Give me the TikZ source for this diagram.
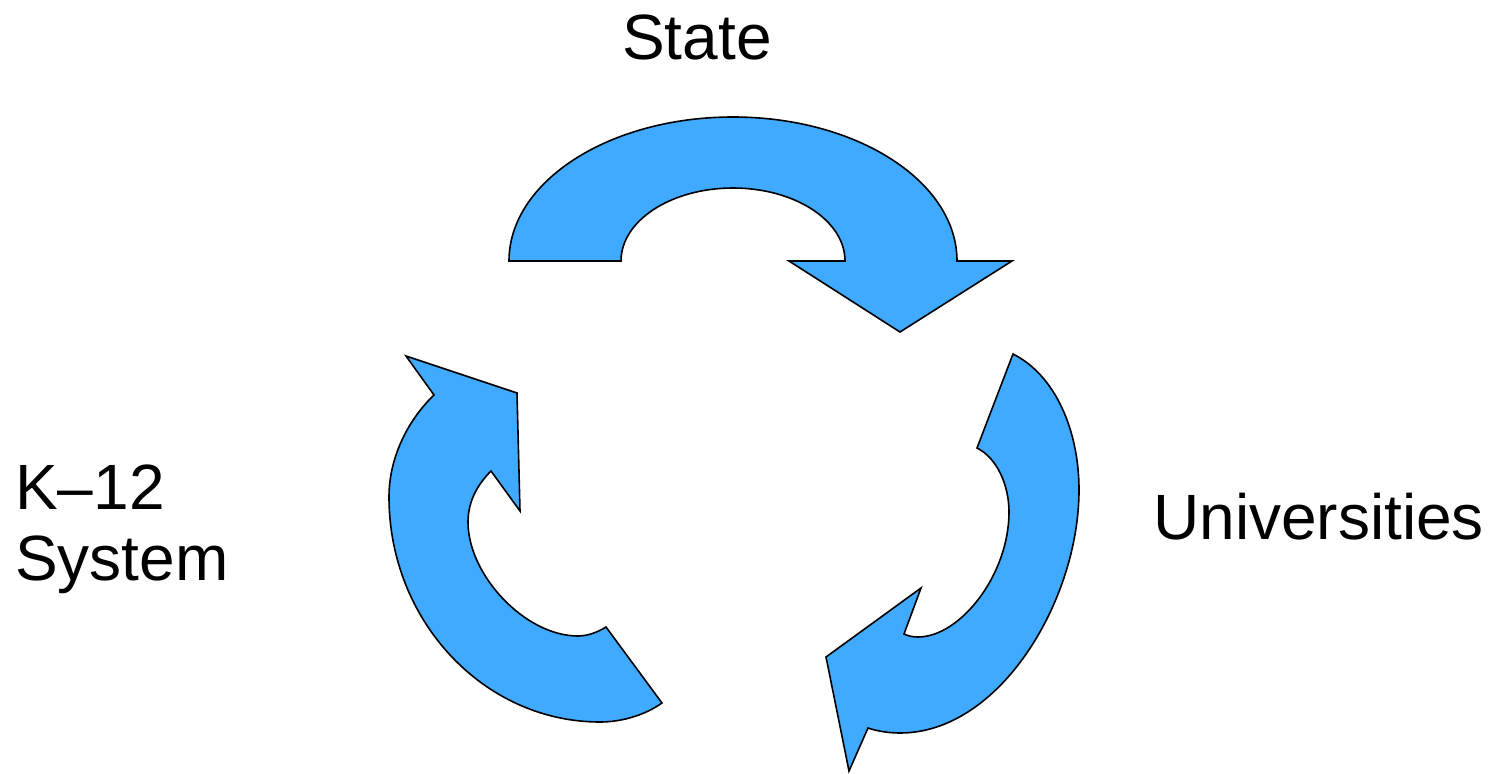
\documentclass[tikz,border=0pt]{standalone}
\usepackage{fontspec}
\setmainfont{Liberation Sans}
\definecolor{arrowblue}{RGB}{63,170,255}
\begin{document}
\begin{tikzpicture}[x=0.75pt,y=-0.75pt,
  cyclearrow/.style={fill=arrowblue,draw=black,line width=1.2pt,line join=miter},
  label/.style={inner sep=0pt,font=\fontsize{48}{53}\selectfont}]
\useasboundingbox (0,0) rectangle (1488,774);
% top arrow (State -> Universities)
\path[cyclearrow] (509,261) -- (621,261)
  arc[start angle=180,end angle=360,x radius=112,y radius=73]
  -- (789,261) -- (900,332) -- (1012,261) -- (957,261)
  arc[start angle=0,end angle=-180,x radius=224,y radius=144] -- cycle;
% right arrow (Universities -> K-12)
\path[cyclearrow] (1013,354)
  .. controls (1055,375) and (1079,430) .. (1079,490)
  .. controls (1079,600) and (1000,733) .. (900,733)
  .. controls (888,733) and (877,731) .. (868,728)
  -- (849,771) -- (826,657) -- (921,588) -- (904,634)
  .. controls (908,636) and (913,637) .. (918,637)
  .. controls (960,637) and (1009,575) .. (1009,512)
  .. controls (1009,485) and (997,458) .. (977,448) -- cycle;
% left arrow (K-12 -> State)
\path[cyclearrow] (606,627) -- (662,703)
  .. controls (645,715) and (622,722) .. (600,722)
  .. controls (484,722) and (389,621) .. (389,497)
  .. controls (389,455) and (410,418) .. (434,395)
  -- (406,356) -- (517,393) -- (520,511) -- (491,471)
  .. controls (477,485) and (468,502) .. (468,522)
  .. controls (468,575) and (525,636) .. (578,636)
  .. controls (588,636) and (598,632) .. cycle;
% labels
\node[label,anchor=base] (state) at (697,60) {State};
\node[label,anchor=base west] (univ) at (1153,539) {Universities};
\node[label,anchor=north west,align=left] (k12) at (15,465) {K–12\\System};
\end{tikzpicture}
\end{document}
